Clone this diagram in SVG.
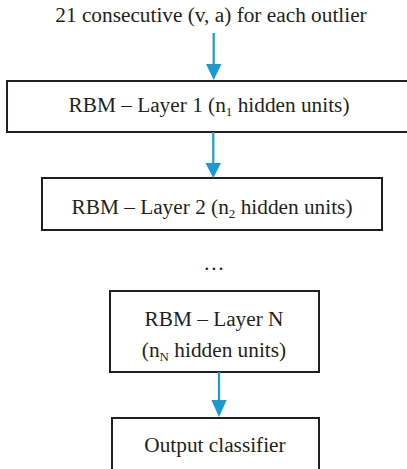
<svg xmlns="http://www.w3.org/2000/svg" width="407" height="469" viewBox="0 0 407 469">
<style>
.box{fill:#fff;stroke:#231f20;stroke-width:2}
.t{font-family:"Liberation Serif","Times New Roman",serif;font-size:21.3px;fill:#231f20;text-anchor:middle}
.sub{font-size:13px}
.c{stroke:#1b9ad2;stroke-width:2.2;fill:none}
.h{fill:#1b9ad2}
</style>
<rect width="407" height="469" fill="#fff"/>
<g id="input">
<text class="t" x="211" y="22">21 consecutive (v, a) for each outlier</text>
</g>
<g id="layer1">
<rect class="box" x="7" y="81" width="402" height="51"/>
<text class="t" x="209" y="112">RBM – Layer 1 (n<tspan class="sub" dy="4">1</tspan><tspan dy="-4"> hidden units)</tspan></text>
</g>
<g id="layer2">
<rect class="box" x="42" y="178" width="340" height="52"/>
<text class="t" x="212" y="214">RBM – Layer 2 (n<tspan class="sub" dy="4">2</tspan><tspan dy="-4"> hidden units)</tspan></text>
</g>
<g id="ellipsis">
<text class="t" x="214" y="270">…</text>
</g>
<g id="layerN">
<rect class="box" x="110" y="291" width="209" height="81"/>
<text class="t" x="214" y="326">RBM – Layer N</text>
<text class="t" x="214" y="357">(n<tspan class="sub" dy="4">N</tspan><tspan dy="-4"> hidden units)</tspan></text>
</g>
<g id="output">
<rect class="box" x="112" y="418" width="207" height="60"/>
<text class="t" x="215" y="452">Output classifier</text>
</g>
<g id="connectors">
<line class="c" x1="213.7" y1="33" x2="213.7" y2="66"/>
<polygon class="h" points="206,64 221.5,64 213.7,80"/>
<line class="c" x1="213.3" y1="132" x2="213.3" y2="165"/>
<polygon class="h" points="205.5,163 221,163 213.3,178"/>
<line class="c" x1="219" y1="372" x2="219" y2="402"/>
<polygon class="h" points="211.3,400 226.7,400 219,417"/>
</g>
</svg>
